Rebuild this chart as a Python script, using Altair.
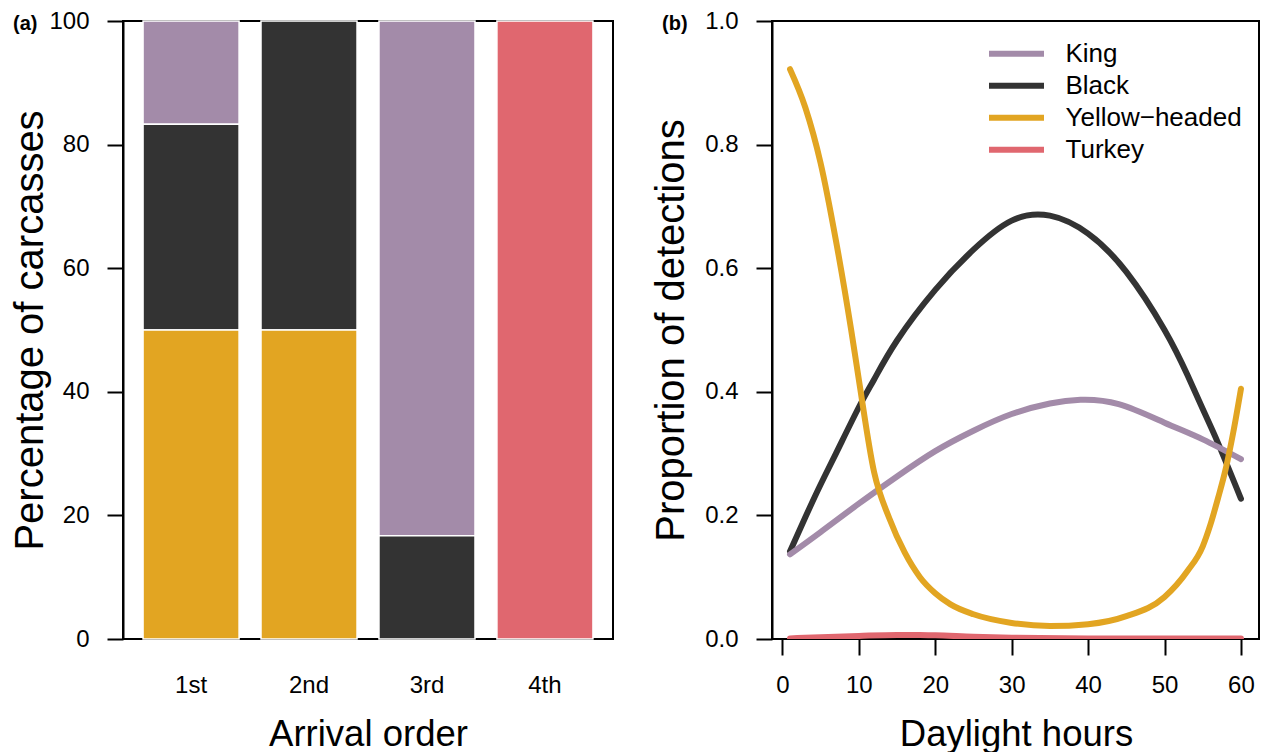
import altair as alt
import pandas as pd

FONT = "Liberation Sans"

# ---------- data ----------
species = ["King", "Black", "Yellow\u2212headed", "Turkey"]
colors = ["#A38BA9", "#333333", "#E2A522", "#E0676F"]
stack_rank = [2, 1, 0, 3]  # yellow at bottom, then black, king

orders = ["1st", "2nd", "3rd", "4th"]
king_pct = [16.7, 0, 83.3, 0]
black_pct = [33.3, 50, 16.7, 0]
yellow_pct = [50, 50, 0, 0]
turkey_pct = [0, 0, 0, 100]

king_x = [1, 5, 10, 15, 20, 25, 30, 35, 39, 44, 50, 55, 60]
king_y = [0.137, 0.173, 0.219, 0.263, 0.304, 0.337, 0.364, 0.381, 0.387, 0.380, 0.350, 0.323, 0.291]

black_x = [1, 3, 5, 7, 10, 12, 15, 20, 25, 30, 35, 40, 45, 50, 53, 55, 57, 60]
black_y = [0.142, 0.197, 0.25, 0.30, 0.375, 0.42, 0.483, 0.565, 0.630, 0.677, 0.685, 0.656, 0.594, 0.50, 0.427, 0.372, 0.317, 0.227]

yellow_x = [1, 3, 5, 7, 9, 10, 12, 14, 16, 18, 20, 22, 25, 30, 35, 40, 45, 50, 53, 55, 56, 57, 58, 59, 60]
yellow_y = [0.922, 0.86, 0.77, 0.645, 0.50, 0.42, 0.27, 0.195, 0.14, 0.10, 0.074, 0.056, 0.04, 0.026, 0.021, 0.024, 0.037, 0.068, 0.11, 0.15, 0.185, 0.228, 0.275, 0.335, 0.405]

turkey_x = [1, 5, 10, 15, 18, 20, 25, 30, 40, 50, 60]
turkey_y = [0.001, 0.003, 0.005, 0.0065, 0.0065, 0.006, 0.0035, 0.002, 0.001, 0.001, 0.001]

# ---------- tables ----------
rows = []
for sp, vals, rank in zip(species, [king_pct, black_pct, yellow_pct, turkey_pct], stack_rank):
    for o, v in zip(orders, vals):
        if v > 0:
            rows.append({"order": o, "species": sp, "pct": v, "rank": rank})
bars_df = pd.DataFrame(rows)

line_sets = [
    (species[1], black_x, black_y, "natural"),
    (species[0], king_x, king_y, "natural"),
    (species[2], yellow_x, yellow_y, "monotone"),
    (species[3], turkey_x, turkey_y, "monotone"),
]

color_scale = alt.Scale(domain=species, range=colors)

W, H = 490, 618
YT = 40    # y-axis title size
XT = 36.5  # x-axis title size

# ---------- left panel ----------
bars = alt.Chart(bars_df).mark_bar(stroke="white", strokeWidth=1.5).encode(
    x=alt.X("order:N", sort=orders,
            scale=alt.Scale(paddingInner=0.186, paddingOuter=0.17),
            axis=alt.Axis(title="Arrival order", labelAngle=0, tickSize=16,
                          tickOpacity=0, labelPadding=18, domain=False, titleFontSize=XT,
                          titleX=245, titleY=106, titleBaseline="alphabetic")),
    y=alt.Y("pct:Q", stack="zero",
            scale=alt.Scale(domain=[0, 100], nice=False),
            axis=alt.Axis(title="Percentage of carcasses", values=[0, 20, 40, 60, 80, 100],
                          tickSize=16, labelPadding=18, grid=False, titleFontSize=YT,
                          titleX=-81, titleY=309, titleBaseline="alphabetic",
                          titleAngle=-90, titleAlign="center", zindex=1)),
    color=alt.Color("species:N", scale=color_scale, legend=None),
    order=alt.Order("rank:Q", sort="ascending"),
)

label_a = alt.Chart(pd.DataFrame({"t": ["(a)"]})).mark_text(
    font=FONT, fontSize=20, fontWeight="bold", align="left", baseline="middle", color="black"
).encode(text="t:N", x=alt.value(-110), y=alt.value(3))

left = alt.layer(bars, label_a).properties(width=W, height=H)

# ---------- right panel ----------
line_layers = []
for sp, xs, ys, interp in line_sets:
    df = pd.DataFrame({"hours": xs, "prop": ys, "species": sp})
    line_layers.append(
        alt.Chart(df).mark_line(strokeWidth=6, strokeCap="round", interpolate=interp, clip=True).encode(
            x=alt.X("hours:Q",
                    scale=alt.Scale(domain=[-1.36, 62.36], nice=False, zero=False),
                    axis=alt.Axis(title="Daylight hours", values=[0, 10, 20, 30, 40, 50, 60],
                                  tickSize=16, labelPadding=18, grid=False, domain=False,
                                  titleFontSize=XT,
                                  titleX=244, titleY=106, titleBaseline="alphabetic", zindex=1)),
            y=alt.Y("prop:Q",
                    scale=alt.Scale(domain=[0, 1], nice=False),
                    axis=alt.Axis(title="Proportion of detections", values=[0, 0.2, 0.4, 0.6, 0.8, 1.0],
                                  format=".1f", tickSize=16, labelPadding=18, grid=False,
                                  titleFontSize=YT,
                                  titleX=-89, titleY=309, titleBaseline="alphabetic",
                                  titleAngle=-90, titleAlign="center", zindex=1)),
            color=alt.Color("species:N", scale=color_scale,
                            legend=alt.Legend(title=None, orient="none", legendX=231.5, legendY=19.7,
                                              symbolType="M-2.75,0H2.75", symbolSize=400,
                                              symbolStrokeWidth=6, labelOffset=36,
                                              labelFontSize=26, labelFont=FONT, labelColor="black",
                                              labelLimit=0, rowPadding=6, padding=0,
                                              symbolOpacity=1)),
        )
    )

label_b = alt.Chart(pd.DataFrame({"t": ["(b)"]})).mark_text(
    font=FONT, fontSize=20, fontWeight="bold", align="left", baseline="middle", color="black"
).encode(text="t:N", x=alt.value(-110), y=alt.value(3))

right = alt.layer(*line_layers, label_b).properties(width=487, height=H)

chart = alt.hconcat(left, right, spacing=36).resolve_scale(color="independent").properties(
    padding={"left": 9, "top": 8, "right": 0, "bottom": 0},
    background="white",
).configure_view(
    stroke="black", strokeWidth=2
).configure_axis(
    domainColor="black", domainWidth=2, tickColor="black", tickWidth=2,
    labelFont=FONT, labelFontSize=24, labelColor="black",
    titleFont=FONT, titleFontSize=35, titleFontWeight="normal", titleColor="black",
)

chart.save("out.html", embed_options={"renderer": "svg", "actions": False})
